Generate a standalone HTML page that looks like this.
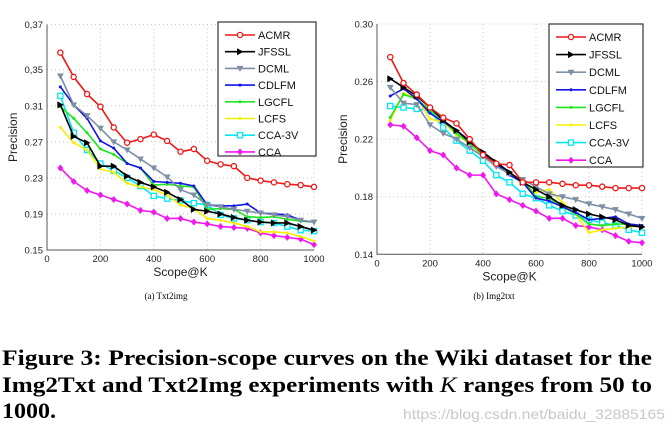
<!DOCTYPE html>
<html><head><meta charset="utf-8"><style>
body{margin:0;background:#fff;width:672px;height:439px;overflow:hidden}
svg{display:block}
text{font-family:"Liberation Sans",sans-serif}
</style></head><body>
<svg id="fig" width="672" height="439" viewBox="0 0 672 439" xmlns="http://www.w3.org/2000/svg">
<g id="chartA"></g>
<g id="chartB"></g>
<text x="166" y="299" font-size="9" text-anchor="middle" style="font-family:'Liberation Serif',serif">(a) Txt2img</text>
<text x="494" y="299" font-size="9" text-anchor="middle" style="font-family:'Liberation Serif',serif">(b) Img2txt</text>
<g font-weight="bold" font-size="22" style="font-family:'Liberation Serif',serif">
<text x="2" y="365" textLength="650" lengthAdjust="spacingAndGlyphs" style="font-family:'Liberation Serif',serif">Figure 3: Precision-scope curves on the Wiki dataset for the</text>
<text x="2" y="392" textLength="650" lengthAdjust="spacingAndGlyphs" style="font-family:'Liberation Serif',serif">Img2Txt and Txt2Img experiments with <tspan font-style="italic" font-weight="normal">K</tspan> ranges from 50 to</text>
<text x="2" y="418" textLength="54" lengthAdjust="spacingAndGlyphs" style="font-family:'Liberation Serif',serif">1000.</text>
</g>
<text x="665" y="419" font-size="14" fill="#c8c8c8" text-anchor="end" textLength="262" lengthAdjust="spacingAndGlyphs">https://blog.csdn.net/baidu_32885165</text>
</svg>
<script>
const ks=[50,100,150,200,250,300,350,400,450,500,550,600,650,700,750,800,850,900,950,1000];
const xTicks=[0,200,400,600,800,1000];
const seriesNames=["ACMR","JFSSL","DCML","CDLFM","LGCFL","LCFS","CCA-3V","CCA"];
// Txt2img
const aACMR=[0.369,0.342,0.323,0.309,0.286,0.269,0.273,0.278,0.271,0.259,0.262,0.249,0.245,0.243,0.230,0.227,0.225,0.223,0.222,0.220];
const aJFSSL=[0.311,0.276,0.269,0.243,0.243,0.232,0.225,0.220,0.214,0.206,0.195,0.193,0.190,0.186,0.183,0.181,0.180,0.180,0.176,0.172];
const aDCML=[0.343,0.311,0.299,0.285,0.270,0.261,0.251,0.241,0.231,0.217,0.211,0.200,0.198,0.195,0.193,0.191,0.189,0.187,0.183,0.181];
const aCDLFM=[0.331,0.311,0.296,0.271,0.263,0.246,0.241,0.226,0.225,0.224,0.221,0.200,0.199,0.199,0.201,0.191,0.190,0.189,0.183,0.181];
const aLGCFL=[0.309,0.296,0.280,0.262,0.256,0.246,0.241,0.222,0.223,0.221,0.220,0.195,0.196,0.195,0.187,0.186,0.187,0.184,0.182,0.181];
const aLCFS=[0.286,0.269,0.261,0.240,0.236,0.224,0.220,0.217,0.211,0.200,0.196,0.185,0.183,0.180,0.176,0.170,0.170,0.169,0.165,0.160];
const aCCA3V=[0.321,0.280,0.261,0.246,0.238,0.230,0.221,0.210,0.207,0.205,0.202,0.200,0.189,0.185,0.183,0.181,0.180,0.176,0.172,0.171];
const aCCA=[0.241,0.226,0.216,0.211,0.206,0.201,0.194,0.192,0.185,0.185,0.181,0.179,0.176,0.175,0.174,0.169,0.166,0.164,0.162,0.156];
const aTickVals=[0.15,0.19,0.23,0.27,0.31,0.35,0.4];
const aTickLabels=["0.15","0.19","0.23","0.27","0.31","0,35","0,37"];
// Img2txt
const bACMR=[0.277,0.259,0.251,0.242,0.235,0.231,0.220,0.209,0.203,0.202,0.190,0.190,0.190,0.189,0.188,0.188,0.187,0.186,0.186,0.186];
const bJFSSL=[0.262,0.256,0.250,0.242,0.233,0.226,0.218,0.211,0.204,0.197,0.190,0.185,0.180,0.174,0.171,0.168,0.166,0.164,0.160,0.159];
const bDCML=[0.256,0.245,0.244,0.230,0.224,0.220,0.214,0.208,0.201,0.196,0.192,0.187,0.182,0.180,0.178,0.175,0.173,0.171,0.168,0.165];
const bCDLFM=[0.250,0.255,0.248,0.238,0.232,0.226,0.219,0.210,0.203,0.195,0.190,0.179,0.177,0.173,0.169,0.164,0.165,0.166,0.161,0.160];
const bLGCFL=[0.235,0.251,0.248,0.240,0.233,0.224,0.217,0.209,0.204,0.196,0.192,0.180,0.179,0.173,0.168,0.161,0.160,0.161,0.161,0.160];
const bLCFS=[0.233,0.252,0.249,0.234,0.232,0.223,0.217,0.208,0.203,0.196,0.189,0.183,0.185,0.176,0.168,0.155,0.157,0.158,0.159,0.160];
const bCCA3V=[0.243,0.242,0.241,0.240,0.228,0.219,0.212,0.205,0.195,0.190,0.182,0.179,0.174,0.170,0.167,0.164,0.162,0.160,0.157,0.155];
const bCCA=[0.230,0.229,0.221,0.212,0.209,0.200,0.195,0.195,0.182,0.178,0.174,0.170,0.165,0.165,0.160,0.159,0.157,0.153,0.149,0.148];
const bTickVals=[0.14,0.18,0.22,0.26,0.30];
const bTickLabels=["0.14","0.18","0.22","0.26","0.30"];

const colors=["#f01818","#000000","#7f8fa6","#1414e6","#1ee61e","#f5f000","#00e8f0","#f018f0"];
const markers=["circle","rtri","dtri","plus","plus","plus","square","diamond"];
const NS="http://www.w3.org/2000/svg";
function mk(tag,attrs,parent){const e=document.createElementNS(NS,tag);for(const k in attrs)e.setAttribute(k,attrs[k]);parent.appendChild(e);return e;}
function marker(g,type,x,y,c){
  let m;
  if(type==="circle")m=mk("circle",{cx:x,cy:y,r:2.6,fill:"#fff",stroke:c,"stroke-width":1.3},g);
  else if(type==="rtri")m=mk("path",{d:`M${x-3},${y-3.5}L${x+3.5},${y}L${x-3},${y+3.5}Z`,fill:c},g);
  else if(type==="dtri")m=mk("path",{d:`M${x-3.5},${y-2.5}L${x+3.5},${y-2.5}L${x},${y+3.5}Z`,fill:c},g);
  else if(type==="plus")m=mk("circle",{cx:x,cy:y,r:1.5,fill:c},g);
  else if(type==="square")m=mk("rect",{x:x-2.6,y:y-2.6,width:5.2,height:5.2,fill:"#fff",stroke:c,"stroke-width":1.3},g);
  else m=mk("path",{d:`M${x},${y-3.5}L${x+3},${y}L${x},${y+3.5}L${x-3},${y}Z`,fill:c},g);
  
  
}
function draw(g,cfg){
  const sx=v=>cfg.x0+(cfg.x1-cfg.x0)*v/1000;
  const sy=v=>cfg.yb+(cfg.yt-cfg.yb)*(v-cfg.vb)/(cfg.vt-cfg.vb);
  const top=sy(cfg.tickVals[cfg.tickVals.length-1]);
  // grid
  cfg.tickVals.forEach((v,i)=>{
    const y=sy(v);
    if(i>0){const gl=mk("line",{x1:cfg.x0,x2:cfg.x1,y1:y,y2:y,stroke:"#bbb","stroke-width":0.8,"stroke-dasharray":"1,3"},g);
    
    }
    const t=mk("text",{x:cfg.x0-4,y:y+3.5,"font-size":9.5,"text-anchor":"end",fill:"#222"},g);t.textContent=cfg.tickLabels[i];
    
    
  });
  xTicks.forEach(v=>{
    const x=sx(v);
    if(v>0){const gl=mk("line",{x1:x,x2:x,y1:top,y2:cfg.yb,stroke:"#bbb","stroke-width":0.8,"stroke-dasharray":"1,3"},g);
    
    }
    const t=mk("text",{x:x,y:cfg.yb+12,"font-size":9.5,"text-anchor":"middle",fill:"#222"},g);t.textContent=v;
    
    
  });
  const ax=mk("path",{d:`M${cfg.x0},${top}V${cfg.yb}H${cfg.x1}`,stroke:"#555",fill:"none","stroke-width":1},g);
  
  
  const xl=mk("text",{x:(cfg.x0+cfg.x1)/2,y:cfg.yb+26,"font-size":12,"text-anchor":"middle",fill:"#222"},g);xl.textContent="Scope@K";
  
  
  const yl=mk("text",{x:0,y:0,"font-size":12,"text-anchor":"middle",fill:"#222",transform:`translate(${cfg.x0-30},${(top+cfg.yb)/2}) rotate(-90)`},g);yl.textContent="Precision";
  
  
  // series, draw CCA first so ACMR on top
  for(let s=cfg.series.length-1;s>=0;s--){
    const vals=cfg.series[s],c=colors[s];
    const sg=mk("g",{},g);
    
    
    const pts=vals.map((v,i)=>sx(ks[i])+","+sy(v)).join(" ");
    mk("polyline",{points:pts,fill:"none",stroke:c,"stroke-width":1.6},sg);
    vals.forEach((v,i)=>marker(sg,markers[s],sx(ks[i]),sy(v),c));
  }
  // legend
  const lg=mk("g",{},g);
  
  
  mk("rect",{x:cfg.lx,y:cfg.ly,width:cfg.lw,height:cfg.lh,fill:"#fff",stroke:"#333","stroke-width":1.2},lg);
  seriesNames.forEach((n,i)=>{
    const y=cfg.ly+13+i*cfg.ls;
    const e=mk("g",{},lg);
    
    
    mk("line",{x1:cfg.lx+7,x2:cfg.lx+37,y1:y,y2:y,stroke:colors[i],"stroke-width":1.6},e);
    marker(e,markers[i],cfg.lx+22,y,colors[i]);
    const t=mk("text",{x:cfg.lx+40,y:y+4,"font-size":11,fill:"#111"},e);t.textContent=n;
  });
}
draw(document.getElementById("chartA"),{x0:47,x1:314,yb:250,yt:69.7,vb:0.15,vt:0.35,
  tickVals:aTickVals,tickLabels:aTickLabels,series:[aACMR,aJFSSL,aDCML,aCDLFM,aLGCFL,aLCFS,aCCA3V,aCCA],
  lx:218,ly:22,lw:98,lh:134,ls:16.7});
draw(document.getElementById("chartB"),{x0:377,x1:642,yb:254.3,yt:24,vb:0.14,vt:0.30,
  tickVals:bTickVals,tickLabels:bTickLabels,series:[bACMR,bJFSSL,bDCML,bCDLFM,bLGCFL,bLCFS,bCCA3V,bCCA],
  lx:549,ly:24,lw:94,lh:143,ls:17.6});
</script>
</body></html>
